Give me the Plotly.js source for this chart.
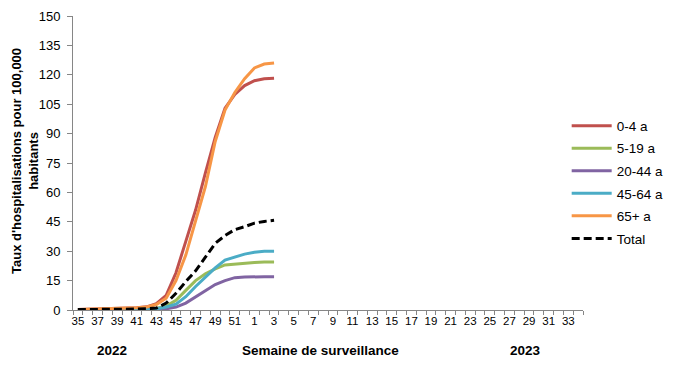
<!DOCTYPE html>
<html><head><meta charset="utf-8">
<script src="https://cdn.plot.ly/plotly-3.0.1.min.js"></script>
<style>body{margin:0;background:#fff}#c{width:673px;height:366px}</style>
</head><body><div id="c"></div>
<script>
var weeks = ["35","36","37","38","39","40","41","42","43","44","45","46","47","48","49","50","51","52","1","2","3","4","5","6","7","8","9","10","11","12","13","14","15","16","17","18","19","20","21","22","23","24","25","26","27","28","29","30","31","32","33","34"];
var dataWeeks = ["35","36","37","38","39","40","41","42","43","44","45","46","47","48","49","50","51","52","1","2","3"];
var s0_4   = [0.3,0.4,0.5,0.6,0.7,0.9,1.1,1.6,3.2,7.5,19,35,51,70,88,103,110,114.5,117,118,118.2];
var s5_19  = [0.1,0.1,0.2,0.2,0.2,0.3,0.4,0.5,0.8,2,5,10,15,18.5,21,23,23.5,24,24.2,24.5,24.5];
var s20_44 = [0,0,0.1,0.1,0.1,0.1,0.2,0.2,0.3,0.6,1.5,3.5,6.8,10,13,15,16.5,16.8,17,17,17];
var s45_64 = [0.1,0.1,0.1,0.2,0.2,0.3,0.3,0.4,0.6,1.5,3,6.8,12,17,21.5,25.5,27,28.5,29.5,30,30];
var s65    = [0.3,0.4,0.5,0.6,0.7,0.9,1.1,1.5,2.8,6,15,28,46,63,86,102,111,118,123.5,125.5,126];
var sTotal = [0.2,0.2,0.3,0.3,0.4,0.4,0.5,0.6,1,3.5,8.5,14.5,20,27,34,38,41,42.5,44.3,45.2,45.8];
var names  = ["0-4 a","5-19 a","20-44 a","45-64 a","65+ a","Total"];
var colors = ["#C0504D","#9BBB59","#8064A2","#4BACC6","#F79646","#000000"];
var yTicks = [0,15,30,45,60,75,90,105,120,135,150];
var tickText = weeks.map(function(w,i){return i%2===0?w:"";});

var series = [s0_4,s5_19,s20_44,s45_64,s65,sTotal];
var traces = series.map(function(s,i){
  return {x:dataWeeks,y:s,type:"scatter",mode:"lines",name:names[i],legendgroup:"g"+i,
    line:{color:colors[i],width:3,dash:i===5?"8px,4px":"solid"}};
});
var font = "Liberation Sans, Arial, sans-serif";
var layout = {
  width:673,height:366,margin:{l:73,r:90,t:16,b:56,autoexpand:false},
  paper_bgcolor:"#fff",plot_bgcolor:"#fff",showlegend:true,
  font:{family:font,size:12,color:"#000"},
  xaxis:{type:"category",categoryorder:"array",categoryarray:weeks,range:[-0.5,51.5],
    tickmode:"array",tickvals:weeks,ticktext:tickText,tickson:"boundaries",
    ticks:"outside",ticklen:4,tickcolor:"#868686",showline:true,linecolor:"#868686",
    showgrid:false,zeroline:false,tickfont:{size:11.5,family:font},tickangle:0,fixedrange:true},
  yaxis:{range:[0,150],tickvals:yTicks,ticks:"outside",ticklen:5,tickcolor:"#868686",
    showline:true,linecolor:"#868686",showgrid:false,zeroline:false,tickfont:{size:13,family:font},ticklabelstandoff:4},
  legend:{x:0.968,y:0.679,xanchor:"left",yanchor:"top",font:{size:13.5,family:font},
    traceorder:"grouped",tracegroupgap:2,bgcolor:"rgba(0,0,0,0)",itemwidth:40},
  annotations:[
    {text:"<b>Taux d'hospitalisations pour 100,000<br>habitants</b>",xref:"paper",yref:"paper",
     x:(25-73)/510,y:(310-161)/294,textangle:-90,showarrow:false,font:{size:13,family:font},xanchor:"center",yanchor:"middle"},
    {text:"<b>Semaine de surveillance</b>",xref:"paper",yref:"paper",x:(320-73)/510,y:-(350-310)/294,
     showarrow:false,font:{size:13.5,family:font},xanchor:"center",yanchor:"middle"},
    {text:"<b>2022</b>",xref:"paper",yref:"paper",x:(112-73)/510,y:-(350-310)/294,
     showarrow:false,font:{size:13.5,family:font},xanchor:"center",yanchor:"middle"},
    {text:"<b>2023</b>",xref:"paper",yref:"paper",x:(525-73)/510,y:-(350-310)/294,
     showarrow:false,font:{size:13.5,family:font},xanchor:"center",yanchor:"middle"}
  ]
};
Plotly.newPlot("c",traces,layout,{displayModeBar:false,staticPlot:true});
</script></body></html>
